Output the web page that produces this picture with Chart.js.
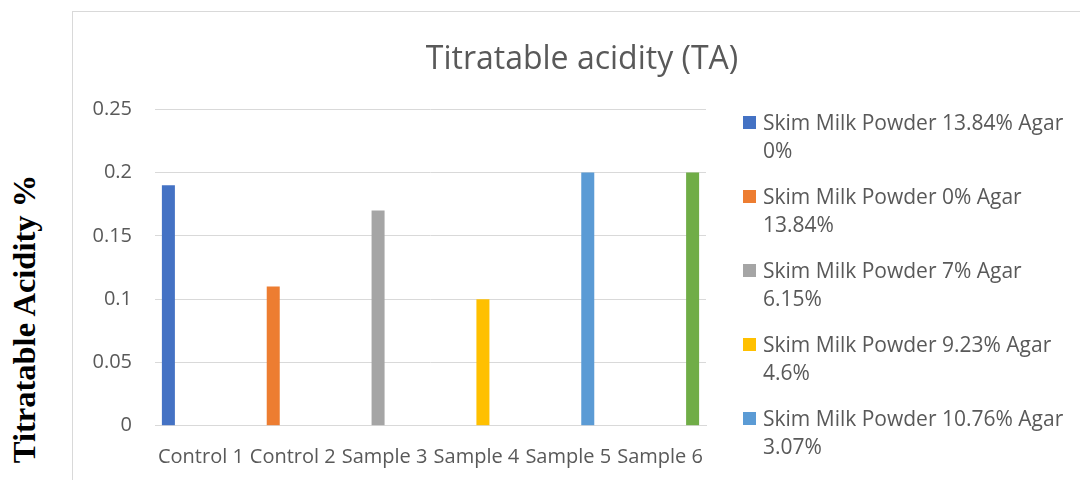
<!DOCTYPE html>
<html>
<head>
<meta charset="utf-8">
<script src="https://cdn.jsdelivr.net/npm/chart.js@4.4.1/dist/chart.umd.min.js"></script>
<style>
html, body {
    margin: 0;
    padding: 0;
    background: #ffffff;
    width: 1080px;
    height: 480px;
    overflow: hidden;
}

/* outer excel style box, cut by the window on the right and bottom */
#box {
    position: absolute;
    left: 72px;
    top: 11px;
    width: 1020px;
    height: 480px;
    border: 1px solid #d9d9d9;
    box-sizing: content-box;
}

#box canvas {
    position: absolute;
    left: 0;
    top: 0;
}

#title {
    position: absolute;
    left: 72px;
    width: 1020px;
    top: 37px;
    text-align: center;
    font-family: "Open Sans", sans-serif;
    font-size: 32px;
    line-height: 40px;
    color: #595959;
}

#ytitle {
    position: absolute;
    width: 320px;
    height: 40px;
    line-height: 40px;
    left: -136px;
    top: 299px;
    text-align: center;
    transform: rotate(-90deg);
    font-family: "Liberation Serif", "Times New Roman", serif;
    font-weight: bold;
    font-size: 32.5px;
    color: #000000;
    white-space: nowrap;
}

#legend {
    position: absolute;
    left: 743px;
    top: 108px;
    font-family: "Open Sans", sans-serif;
    font-size: 21px;
    line-height: 28px;
    color: #595959;
}

.item {
    position: relative;
    padding-left: 20px;
    width: 305px;
    margin-bottom: 18px;
}

.swatch {
    position: absolute;
    left: 0;
    top: 8px;
    width: 13px;
    height: 13px;
}
</style>
</head>
<body>

<div id="ytitle">Titratable Acidity %</div>

<div id="box">
    <canvas id="taChart" width="1020" height="480"></canvas>
</div>

<div id="title">Titratable acidity (TA)</div>

<div id="legend"></div>

<script>
// ===========================
// DATA
// ===========================

const categories = [
    "Control 1", "Control 2", "Sample 3",
    "Sample 4", "Sample 5", "Sample 6"
];

const seriesNames = [
    "Skim Milk Powder 13.84% Agar 0%",
    "Skim Milk Powder 0% Agar 13.84%",
    "Skim Milk Powder 7% Agar 6.15%",
    "Skim Milk Powder 9.23% Agar 4.6%",
    "Skim Milk Powder 10.76% Agar 3.07%",
    "Skim Milk Powder 12.3% Agar 1.54%"
];

// one bar per series, empty slots elsewhere
const smp1384 = [0.19, null, null, null, null, null];
const agar1384 = [null, 0.11, null, null, null, null];
const smp7 = [null, null, 0.17, null, null, null];
const smp923 = [null, null, null, 0.10, null, null];
const smp1076 = [null, null, null, null, 0.20, null];
const smp123 = [null, null, null, null, null, 0.20];

const yTicks = [0, 0.05, 0.1, 0.15, 0.2, 0.25];

const barColors = [
    "#4472C4", "#ED7D31", "#A5A5A5",
    "#FFC000", "#5B9BD5", "#70AD47"
];

const seriesData = [smp1384, agar1384, smp7, smp923, smp1076, smp123];

// ===========================
// CHART
// ===========================

const ctx = document.getElementById("taChart").getContext("2d");

const taChart = new Chart(ctx, {

    type: 'bar',

    data: {
        labels: categories,
        datasets: seriesData.map((vals, i) => ({
            label: seriesNames[i],
            data: vals,
            backgroundColor: barColors[i],
            borderWidth: 0,
            categoryPercentage: 0.85,
            barPercentage: 1.0
        }))
    },

    options: {
        responsive: false,
        animation: false,
        devicePixelRatio: 1,

        layout: {
            padding: { left: 0, right: 387, top: 97.3, bottom: 6.3 }
        },

        plugins: {
            legend: { display: false },
            title: { display: false },
            tooltip: { enabled: false }
        },

        scales: {
            x: {
                grid: { display: false, drawTicks: false },
                border: { display: true, color: '#d9d9d9', width: 1 },
                ticks: {
                    autoSkip: false,
                    maxRotation: 0,
                    minRotation: 0,
                    padding: 20,
                    color: '#595959',
                    font: { family: 'Open Sans', size: 20 }
                },
                afterFit: (scale) => { scale.height = 60; }
            },
            y: {
                min: 0,
                max: 0.25,
                grid: { color: '#d9d9d9', lineWidth: 1, drawTicks: false },
                border: { display: false },
                ticks: {
                    padding: 23,
                    color: '#595959',
                    font: { family: 'Open Sans', size: 20 },
                    callback: (v) => String(v)
                },
                afterBuildTicks: (scale) => {
                    scale.ticks = yTicks.map(v => ({ value: v }));
                },
                afterFit: (scale) => { scale.width = 82; }
            }
        }
    }
});

// ===========================
// LEGEND (html, wraps like excel)
// ===========================

const legendBox = document.getElementById("legend");

taChart.data.datasets.forEach(ds => {
    const item = document.createElement("div");
    item.className = "item";

    const sw = document.createElement("span");
    sw.className = "swatch";
    sw.style.background = ds.backgroundColor;

    item.appendChild(sw);
    item.appendChild(document.createTextNode(ds.label));
    legendBox.appendChild(item);
});
</script>
</body>
</html>
